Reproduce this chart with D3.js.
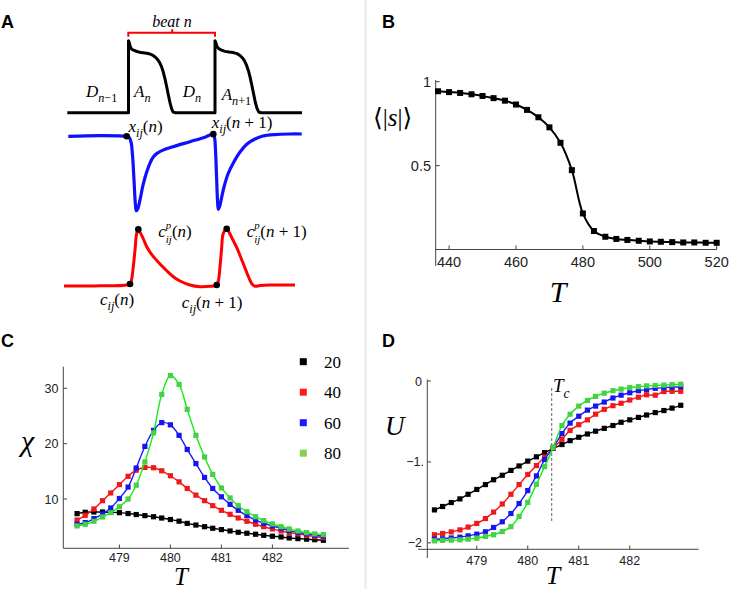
<!DOCTYPE html>
<html><head><meta charset="utf-8">
<script src="https://cdn.jsdelivr.net/npm/d3@7"></script>
<style>body{margin:0;background:#fff}svg{display:block}</style>
</head><body><svg id="c" width="736" height="589"></svg>
<script>
// ---------- Panel A (schematic traces: time units, normalised values) ----------
const apTrace = [[3.3,0],[64.5,0],[64.5,1.0],[65.3,0.975],[66.2,0.92],[67.5,0.885],[69.5,0.868],[73,0.85],[77,0.835],[82.7,0.825],[86,0.815],[89,0.795],[91.5,0.77],[93.5,0.74],[95.5,0.70],[97.5,0.64],[99.3,0.565],[101,0.47],[102.7,0.36],[104.3,0.25],[106,0.14],[107.5,0.06],[109,0.01],[111,0],[151,0],[151,1.0],[151.8,0.975],[152.7,0.93],[154.3,0.895],[157,0.872],[161,0.852],[165,0.842],[169.3,0.835],[173,0.82],[176,0.795],[178.5,0.76],[180.5,0.72],[182.5,0.66],[184.5,0.58],[186.3,0.48],[188,0.37],[189.7,0.255],[191.3,0.145],[193,0.06],[194.7,0.01],[197,0],[238,0]];
const xTrace = [[4.3,0.97],[36,0.98],[62.7,0.97],[65,0.958],[67,0.897],[68.5,0.727],[70,0.401],[71.3,0.101],[72.3,0],[73.7,0.022],[76,0.14],[79,0.335],[82.7,0.504],[86,0.621],[89.3,0.699],[93,0.747],[99,0.79],[111,0.842],[126,0.9],[141,0.959],[149.3,0.998],[150.5,0.958],[151.5,0.79],[152.5,0.465],[153.5,0.139],[154.3,0.018],[155.5,0.048],[157.5,0.165],[160,0.309],[164,0.478],[169.3,0.621],[176,0.765],[183,0.87],[191,0.935],[199,0.974],[211,0.993],[226,1.0],[237.7,1.0]];
const xDots = [[62.7,0.97],[149.3,0.998]];
const cTrace = [[0,-0.005],[36,0],[66,0.03],[67.5,0.1],[69.3,0.333],[71,0.626],[72.7,0.918],[74.3,0.989],[76,0.94],[79,0.835],[82.7,0.684],[88,0.54],[96,0.381],[103,0.258],[109.3,0.158],[116,0.082],[126,0.012],[136,-0.018],[146,-0.011],[152.7,0.012],[154.5,0.1],[156,0.333],[157.5,0.626],[159.3,0.918],[162.7,1.0],[165,0.94],[169,0.8],[173,0.66],[177,0.487],[181,0.31],[185,0.135],[188,0.03],[191,-0.01],[196,0.004],[206,0.012],[231,0.012]];
const cDots = [[66,0.03],[74.3,0.989],[152.7,0.012],[162.7,1.0]];

// ---------- Panel B ----------
const tB = [436.7,440,443.3,446.7,450,453.3,456.7,460,463.3,466.7,470,473.3,476.7,480,483.3,486.7,490,493.3,496.7,500,503.3,506.7,510,513.3,516.7,520];
const sB = [0.943,0.938,0.933,0.925,0.915,0.902,0.887,0.864,0.832,0.788,0.728,0.636,0.473,0.215,0.11,0.076,0.063,0.057,0.052,0.048,0.046,0.044,0.042,0.042,0.04,0.04];
const xTicksB = [440,460,480,500,520];
const yTicksB = [0.5,1];

// ---------- Panels C & D ----------
const sizes = ["20","40","60","80"];
const tCD = [478.17,478.33,478.5,478.67,478.83,479,479.17,479.33,479.5,479.67,479.83,480,480.17,480.33,480.5,480.67,480.83,481,481.17,481.33,481.5,481.67,481.83,482,482.17,482.33,482.5,482.67,482.83,483];
const chi20 = [7.36,7.6,7.66,7.66,7.6,7.54,7.38,7.2,7.0,6.8,6.57,6.3,6.0,5.6,5.3,5.0,4.72,4.48,4.23,4.0,3.82,3.64,3.45,3.28,3.15,2.97,2.85,2.75,2.65,2.55];
const chi40 = [6.2,7.06,8.2,9.7,11.1,12.6,14.1,15.2,15.7,15.65,15.1,14.2,13.1,11.9,10.7,9.7,8.8,7.96,7.24,6.58,5.98,5.44,5.0,4.6,4.23,3.93,3.7,3.45,3.2,3.03];
const chi60 = [5.44,5.74,6.46,7.3,8.38,10.1,12.16,15.6,19.5,22.4,23.8,23.4,21.5,18.95,16.4,13.9,11.9,10.4,9.04,7.96,7.0,6.2,5.62,5.14,4.72,4.3,3.93,3.7,3.45,3.28];
const chi80 = [5.14,5.44,5.98,6.76,7.54,8.6,10.0,12.5,16.7,21.95,28.9,32.3,30.7,26.2,21.5,17.6,14.45,12.0,10.2,8.8,7.7,6.8,6.1,5.5,5.0,4.6,4.23,3.93,3.7,3.57];
const u20 = [-1.593,-1.551,-1.502,-1.457,-1.40,-1.34,-1.28,-1.22,-1.165,-1.105,-1.05,-0.99,-0.937,-0.885,-0.832,-0.785,-0.737,-0.695,-0.655,-0.62,-0.585,-0.55,-0.51,-0.48,-0.45,-0.42,-0.39,-0.365,-0.335,-0.30];
const u40 = [-1.90,-1.885,-1.865,-1.84,-1.805,-1.76,-1.70,-1.62,-1.52,-1.40,-1.28,-1.155,-1.045,-0.94,-0.83,-0.72,-0.61,-0.54,-0.48,-0.41,-0.35,-0.305,-0.275,-0.235,-0.20,-0.17,-0.175,-0.13,-0.127,-0.127];
const u60 = [-1.955,-1.95,-1.94,-1.93,-1.914,-1.893,-1.864,-1.81,-1.74,-1.638,-1.514,-1.354,-1.173,-0.971,-0.82,-0.65,-0.52,-0.435,-0.36,-0.31,-0.26,-0.21,-0.175,-0.145,-0.12,-0.105,-0.09,-0.082,-0.075,-0.07];
const u80 = [-1.975,-1.97,-1.967,-1.963,-1.955,-1.942,-1.92,-1.90,-1.86,-1.80,-1.675,-1.50,-1.276,-1.058,-0.82,-0.55,-0.41,-0.31,-0.24,-0.19,-0.15,-0.12,-0.10,-0.08,-0.07,-0.06,-0.055,-0.05,-0.045,-0.04];
const xTicksCD = [479,480,481,482];
const yTicksC = [10,20,30];
const yTicksD = [0,-1,-2];
const yTickLabelsD = ["0","\u22121.","\u22122"];
const Tc = 480.47;
const lineColors = ["#000000","#ff1010","#1a1aff","#10ee10"];
const markColors = ["#000000","#ee1a1a","#1515ee","#45d045"];
const legendColors = ["#000000","#ff1a1a","#1a1aff","#88d04b"];

// ================= drawing =================
const svg = d3.select("#c");
const SERIF = "'Liberation Serif','DejaVu Serif',serif";
const SANS = "'Liberation Sans',Arial,sans-serif";

svg.append("rect").attr("x",364).attr("y",0).attr("width",3).attr("height",589).attr("fill","#efefef");

function panelLabel(t,x,y){svg.append("text").attr("x",x).attr("y",y).attr("font-family",SANS).attr("font-weight","bold").attr("font-size",18).text(t);}
panelLabel("A",1,28);panelLabel("B",382,28);panelLabel("C",1,347);panelLabel("D",382,347);

// math text helper: segs = [text, kind] kind: i,n,subi,subn,supi,subback
function mathText(g,x,y,segs,size){
  const t=g.append("text").attr("x",x).attr("y",y).attr("font-family",SERIF).attr("font-size",size).attr("fill","#000");
  let shift=0, lastNode=null;
  segs.forEach(([str,kind])=>{
    const ts=t.append("tspan").text(str);
    let target=0, fs=size;
    if(kind.startsWith("sub")){target=0.3*size;fs=0.72*size;}
    if(kind==="subback"){target=0.36*size;fs=0.64*size;}
    if(kind.startsWith("sup")){target=-0.5*size;fs=0.64*size;}
    ts.attr("font-size",fs).attr("font-style",kind.endsWith("i")?"italic":"normal");
    if(target!==shift){ts.attr("dy",target-shift);shift=target;}
    if(kind==="subback" && lastNode){ts.attr("dx",-lastNode.getComputedTextLength()).attr("font-style","italic");}
    lastNode=ts.node();
  });
  return t;
}

// ---- Panel A ----
const gA = svg.append("g");
const xA = d3.scaleLinear().domain([0,240]).range([64,304]);
const yV = d3.scaleLinear().domain([0,1]).range([112.7,40.7]);
const yX = d3.scaleLinear().domain([0,1]).range([210.7,134]);
const yCa = d3.scaleLinear().domain([0,1]).range([285.7,228.7]);
const cr = d3.curveCatmullRom.alpha(0.5);
gA.append("path").attr("d",d3.line().x(d=>xA(d[0])).y(d=>yV(d[1])).curve(d3.curveLinear)(apTrace)).attr("fill","none").attr("stroke","#000").attr("stroke-width",3).attr("stroke-linejoin","round");
gA.append("path").attr("d",d3.line().x(d=>xA(d[0])).y(d=>yX(d[1])).curve(cr)(xTrace)).attr("fill","none").attr("stroke","#1010ff").attr("stroke-width",3.2).attr("stroke-linejoin","round");
gA.append("path").attr("d",d3.line().x(d=>xA(d[0])).y(d=>yCa(d[1])).curve(cr)(cTrace)).attr("fill","none").attr("stroke","#ff0000").attr("stroke-width",3).attr("stroke-linejoin","round");
gA.selectAll(".xd").data(xDots).join("circle").attr("cx",d=>xA(d[0])).attr("cy",d=>yX(d[1])).attr("r",3.3).attr("fill","#000");
gA.selectAll(".cd").data(cDots).join("circle").attr("cx",d=>xA(d[0])).attr("cy",d=>yCa(d[1])).attr("r",3.3).attr("fill","#000");
// bracket "beat n"
const bl=xA(64.3), br=xA(151), bm=xA(108.2);
gA.append("path").attr("d",`M${bl},${yV(1.056)}L${bl},${yV(1.11)}L${br},${yV(1.11)}L${br},${yV(1.056)}M${bm},${yV(1.11)}L${bm},${yV(1.16)}`).attr("fill","none").attr("stroke","#ff0000").attr("stroke-width",2);
mathText(gA,xA(108),yV(1.19),[["beat ","i"],["n","i"]],16).attr("text-anchor","middle");
const AF=17;
mathText(gA,xA(22),yV(0.222),[["D","i"],["n","subi"],["\u22121","subn"]],AF);
mathText(gA,xA(70),yV(0.222),[["A","i"],["n","subi"]],AF);
mathText(gA,xA(118.7),yV(0.222),[["D","i"],["n","subi"]],AF);
mathText(gA,xA(157.7),yV(0.176),[["A","i"],["n","subi"],["+1","subn"]],AF);
mathText(gA,xA(64.5),yX(1.03),[["x","i"],["ij","subi"],["(","n"],["n","i"],[")","n"]],AF);
mathText(gA,xA(147.7),yX(1.082),[["x","i"],["ij","subi"],["(","n"],["n","i"],[" + 1)","n"]],AF);
mathText(gA,xA(94.3),yCa(0.854),[["c","i"],["p","supi"],["ij","subback"],["(","n"],["n","i"],[")","n"]],AF);
mathText(gA,xA(182.7),yCa(0.854),[["c","i"],["p","supi"],["ij","subback"],["(","n"],["n","i"],[" + 1)","n"]],AF);
mathText(gA,xA(36),yCa(-0.339),[["c","i"],["ij","subi"],["(","n"],["n","i"],[")","n"]],AF);
mathText(gA,xA(117.7),yCa(-0.39),[["c","i"],["ij","subi"],["(","n"],["n","i"],[" + 1)","n"]],AF);

// ---- Panel B ----
const gB = svg.append("g");
const xB = d3.scaleLinear().domain([436,520]).range([435.7,716.7]);
const yB = d3.scaleLinear().domain([0,1]).range([249.5,81.7]);
const axCol="#444";
gB.append("line").attr("x1",xB(436)).attr("x2",xB(436)).attr("y1",80).attr("y2",266).attr("stroke",axCol);
gB.append("line").attr("x1",xB(436)).attr("x2",xB(520)).attr("y1",yB(0)).attr("y2",yB(0)).attr("stroke",axCol);
gB.selectAll(".xt").data(xTicksB).join("line").attr("x1",d=>xB(d)).attr("x2",d=>xB(d)).attr("y1",yB(0)).attr("y2",yB(0)-4).attr("stroke",axCol);
gB.selectAll(".yt").data(yTicksB).join("line").attr("x1",xB(436)).attr("x2",xB(436)+4).attr("y1",d=>yB(d)).attr("y2",d=>yB(d)).attr("stroke",axCol);
gB.selectAll(".xl").data(xTicksB).join("text").attr("x",d=>xB(d)).attr("y",267).attr("text-anchor","middle").attr("font-family",SANS).attr("font-size",14.5).attr("fill","#222").text(d=>d);
gB.selectAll(".yl").data(yTicksB).join("text").attr("x",431).attr("y",d=>yB(d)+5).attr("text-anchor","end").attr("font-family",SANS).attr("font-size",14.5).attr("fill","#222").text(d=>d);
const bPts = tB.map((t,i)=>[t,sB[i]]);
gB.append("path").attr("d",d3.line().x(d=>xB(d[0])).y(d=>yB(d[1])).curve(d3.curveCatmullRom.alpha(0.5))(bPts)).attr("fill","none").attr("stroke","#000").attr("stroke-width",2);
gB.selectAll(".bp").data(bPts).join("rect").attr("x",d=>xB(d[0])-3).attr("y",d=>yB(d[1])-3).attr("width",6).attr("height",6).attr("fill","#000");
mathText(gB,558,302,[["T","i"]],30).attr("text-anchor","middle");
mathText(gB,373,126,[["\u27E8|","n"],["s","i"],["|\u27E9","n"]],25);

// ---- Panel C ----
const gC = svg.append("g");
const xC = d3.scaleLinear().domain([477.9,483.5]).range([63.3,348.9]);
const yC = d3.scaleLinear().domain([1.1,33.9]).range([548.3,366.7]);
gC.append("line").attr("x1",xC.range()[0]).attr("x2",xC.range()[0]).attr("y1",yC.range()[1]).attr("y2",yC.range()[0]).attr("stroke",axCol);
gC.append("line").attr("x1",xC.range()[0]).attr("x2",xC.range()[1]).attr("y1",yC.range()[0]).attr("y2",yC.range()[0]).attr("stroke",axCol);
gC.selectAll(".xt").data(xTicksCD).join("line").attr("x1",d=>xC(d)).attr("x2",d=>xC(d)).attr("y1",548.3).attr("y2",544.5).attr("stroke",axCol);
gC.selectAll(".yt").data(yTicksC).join("line").attr("x1",63.3).attr("x2",67).attr("y1",d=>yC(d)).attr("y2",d=>yC(d)).attr("stroke",axCol);
gC.selectAll(".xl").data(xTicksCD).join("text").attr("x",d=>xC(d)).attr("y",561.5).attr("text-anchor","middle").attr("font-family",SANS).attr("font-size",12.5).attr("fill","#222").text(d=>d);
gC.selectAll(".yl").data(yTicksC).join("text").attr("x",58.5).attr("y",d=>yC(d)+4.5).attr("text-anchor","end").attr("font-family",SANS).attr("font-size",12.5).attr("fill","#222").text(d=>d);
const chiSeries=[chi20,chi40,chi60,chi80];
chiSeries.forEach((s,k)=>{
  const pts=tCD.map((t,i)=>[t,s[i]]);
  gC.append("path").attr("d",d3.line().x(d=>xC(d[0])).y(d=>yC(d[1])).curve(d3.curveCatmullRom.alpha(0.5))(pts)).attr("fill","none").attr("stroke",lineColors[k]).attr("stroke-width",1.4);
  gC.selectAll(".m"+k).data(pts).join("rect").attr("x",d=>xC(d[0])-2.6).attr("y",d=>yC(d[1])-2.6).attr("width",5.2).attr("height",5.2).attr("fill",markColors[k]);
});
sizes.forEach((s,k)=>{
  const cy=361.7+k*30.5;
  gC.append("rect").attr("x",299.8).attr("y",cy-3.5).attr("width",7).attr("height",7).attr("fill",legendColors[k]);
  gC.append("text").attr("x",324).attr("y",cy+6).attr("font-family",SERIF).attr("font-size",17).text(s);
});
mathText(gC,181,585,[["T","i"]],25).attr("text-anchor","middle");
mathText(gC,21,451,[["\u03C7","i"]],30);

// ---- Panel D ----
const gD = svg.append("g");
const xD = d3.scaleLinear().domain([478.03,483.35]).range([427.3,698.6]);
const yD = d3.scaleLinear().domain([-2.08,0.02]).range([549.3,379.4]);
gD.append("line").attr("x1",427.3).attr("x2",427.3).attr("y1",yD(0.02)).attr("y2",558).attr("stroke",axCol);
gD.append("line").attr("x1",418).attr("x2",xD(483.35)).attr("y1",yD(-2.08)).attr("y2",yD(-2.08)).attr("stroke",axCol);
gD.selectAll(".xt").data(xTicksCD).join("line").attr("x1",d=>xD(d)).attr("x2",d=>xD(d)).attr("y1",549.3).attr("y2",545.5).attr("stroke",axCol);
gD.selectAll(".yt").data(yTicksD).join("line").attr("x1",427.3).attr("x2",431).attr("y1",d=>yD(d)).attr("y2",d=>yD(d)).attr("stroke",axCol);
gD.selectAll(".xl").data(xTicksCD).join("text").attr("x",d=>xD(d)).attr("y",564.5).attr("text-anchor","middle").attr("font-family",SANS).attr("font-size",12.5).attr("fill","#222").text(d=>d);
gD.selectAll(".yl").data(yTicksD).join("text").attr("x",d=>d===-1?424:422).attr("y",d=>yD(d)+4.5).attr("text-anchor","end").attr("font-family",SANS).attr("font-size",12.5).attr("fill","#222").text((d,i)=>yTickLabelsD[i]);
gD.append("line").attr("x1",xD(Tc)).attr("x2",xD(Tc)).attr("y1",388).attr("y2",522).attr("stroke","#666").attr("stroke-dasharray","3,2").attr("stroke-width",1);
const uSeries=[u20,u40,u60,u80];
uSeries.forEach((s,k)=>{
  const pts=tCD.map((t,i)=>[t,s[i]]);
  gD.append("path").attr("d",d3.line().x(d=>xD(d[0])).y(d=>yD(d[1])).curve(d3.curveCatmullRom.alpha(0.5))(pts)).attr("fill","none").attr("stroke",lineColors[k]).attr("stroke-width",1.4);
  gD.selectAll(".m"+k).data(pts).join("rect").attr("x",d=>xD(d[0])-2.6).attr("y",d=>yD(d[1])-2.6).attr("width",5.2).attr("height",5.2).attr("fill",markColors[k]);
});
mathText(gD,553,584,[["T","i"]],26).attr("text-anchor","middle");
mathText(gD,385,435,[["U","i"]],27);
mathText(gD,553,392,[["T","i"],["c","subi"]],19);
</script></body></html>
